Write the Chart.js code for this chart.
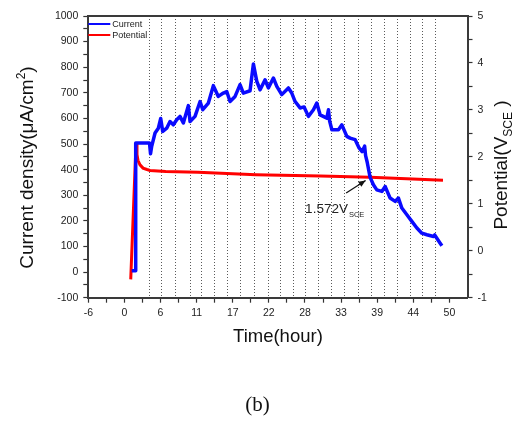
<!DOCTYPE html>
<html><head><meta charset="utf-8">
<script src="https://cdn.jsdelivr.net/npm/chart.js@4"></script>
<style>
html,body{margin:0;padding:0;background:#fff;}
#wrap{position:relative;width:515px;height:422px;overflow:hidden;}
#c{position:absolute;left:0;top:0;}
#cap{position:absolute;left:0;width:515px;top:392px;text-align:center;font:21px "Liberation Serif","Times New Roman",serif;color:#111;line-height:24px;}
</style></head><body>
<div id="wrap"><canvas id="c" width="515" height="422" style="width:515px;height:422px"></canvas><div id="cap">(b)</div></div>
<script>
// ---- data ----
const xTickLabels = ['-6','0','6','11','17','22','28','33','39','44','50'];
const leftTickLabels = ['-100','0','100','200','300','400','500','600','700','800','900','1000'];
const rightTickLabels = ['-1','0','1','2','3','4','5'];
const seriesNames = ['Current','Potential'];

const markerHours = [3.4, 5.2, 7.4, 9.7, 11.5, 13.5, 15.5, 17.6, 19.7, 21.8, 23.8, 25.8, 27.6, 29.6, 31.6, 33.7, 35.8, 37.8, 39.8, 41.9, 43.9, 45.7, 47.7];

const currentTime = [0.73, 1.25, 1.35, 3.49, 3.65, 3.83, 4.35, 4.86, 5.23, 5.54, 6.16, 6.67, 7.18, 7.71, 8.22, 8.74, 9.51, 9.78, 10.55, 11.33, 11.75, 12.62, 13.39, 14.16, 14.94, 15.47, 15.98, 16.76, 17.53, 18.04, 19.08, 19.6, 20.13, 20.64, 21.41, 21.92, 22.7, 23.23, 24.0, 25.03, 25.55, 26.07, 26.84, 27.46, 28.13, 28.91, 29.43, 29.95, 30.99, 31.24, 31.42, 31.77, 32.79, 33.32, 34.09, 34.6, 35.38, 35.99, 36.46, 36.85, 37.0, 37.24, 37.7, 38.21, 38.74, 39.52, 40.03, 40.8, 41.58, 42.09, 42.62, 43.4, 44.17, 44.95, 45.72, 46.5, 47.53, 47.71, 48.56, 48.83];
const currentValues = [5, 5, 504, 504, 462, 491, 543, 562, 600, 549, 562, 588, 575, 595, 608, 582, 650, 588, 608, 666, 634, 660, 728, 686, 699, 705, 666, 686, 732, 699, 708, 813, 745, 712, 751, 719, 758, 725, 693, 719, 699, 666, 641, 645, 608, 634, 660, 614, 601, 634, 590, 556, 556, 575, 530, 523, 517, 485, 470, 492, 455, 430, 370, 341, 321, 315, 334, 289, 276, 289, 250, 224, 198, 172, 152, 146, 139, 145, 113, 103];

const potentialTime = [0.58, 1.40, 1.55, 1.71, 2.02, 2.49, 3.1, 3.57, 6, 11, 20, 30, 37.7, 49.0];
const potentialValues = [-0.61, 2.29, 2.05, 1.92, 1.83, 1.76, 1.73, 1.71, 1.69, 1.67, 1.62, 1.59, 1.565, 1.50];

const annotationPoint = {time: 37.7, potential: 1.572, text: '1.572V', sub: 'SCE'};

// ---- chart ----
const FONT = 'Arial, "Liberation Sans", sans-serif';
const toXY = (xs, ys) => xs.map((v, i) => ({x: v, y: ys[i]}));

function drawRich(ctx, parts, x, y, rot) {
  ctx.save();
  ctx.translate(x, y);
  ctx.rotate(rot);
  ctx.textBaseline = 'alphabetic';
  ctx.textAlign = 'left';
  ctx.fillStyle = '#111';
  let total = 0;
  parts.forEach(p => { ctx.font = p.size + 'px ' + FONT; p.w = ctx.measureText(p.text).width; total += p.w; });
  let cx = -total / 2;
  parts.forEach(p => { ctx.font = p.size + 'px ' + FONT; ctx.fillText(p.text, cx, p.dy); cx += p.w; });
  ctx.restore();
}

const decor = {
  id: 'decor',
  beforeDatasetsDraw(chart) {
    const {ctx, chartArea: a, scales: {x}} = chart;
    ctx.save();
    ctx.strokeStyle = '#5a5a5a';
    ctx.lineWidth = 1;
    ctx.setLineDash([1, 2]);
    markerHours.forEach(h => {
      const px = Math.round(x.getPixelForValue(h)) + 0.5;
      ctx.beginPath(); ctx.moveTo(px, a.top); ctx.lineTo(px, a.bottom); ctx.stroke();
    });
    ctx.restore();
  },
  afterDraw(chart) {
    const {ctx, chartArea: a, scales: {x, y2}} = chart;
    ctx.save();
    // top frame
    ctx.strokeStyle = '#3a3a3a'; ctx.lineWidth = 2;
    ctx.beginPath(); ctx.moveTo(a.left - 1, a.top); ctx.lineTo(a.right + 1, a.top); ctx.stroke();
    // legend
    chart.data.datasets.forEach((ds, i) => {
      const yy = a.top + 8 + 11 * i;
      ctx.strokeStyle = ds.borderColor; ctx.lineWidth = 2;
      ctx.beginPath(); ctx.moveTo(a.left, yy); ctx.lineTo(a.left + 22, yy); ctx.stroke();
      ctx.fillStyle = '#222'; ctx.font = '9px ' + FONT; ctx.textBaseline = 'middle'; ctx.textAlign = 'left';
      ctx.fillText(ds.label, a.left + 24, yy + 0.5);
    });
    // annotation
    const ax = x.getPixelForValue(annotationPoint.time), ay = y2.getPixelForValue(annotationPoint.potential);
    const tx = ax - 24, ty = ay + 16, hx = ax - 4.5, hy = ay + 3.5;
    ctx.strokeStyle = '#111'; ctx.fillStyle = '#111'; ctx.lineWidth = 1.3;
    ctx.beginPath(); ctx.moveTo(tx, ty); ctx.lineTo(hx, hy); ctx.stroke();
    const ang = Math.atan2(hy - ty, hx - tx);
    ctx.beginPath();
    ctx.moveTo(hx, hy);
    ctx.lineTo(hx - 7 * Math.cos(ang) + 3 * Math.sin(ang), hy - 7 * Math.sin(ang) - 3 * Math.cos(ang));
    ctx.lineTo(hx - 7 * Math.cos(ang) - 3 * Math.sin(ang), hy - 7 * Math.sin(ang) + 3 * Math.cos(ang));
    ctx.closePath(); ctx.fill();
    ctx.fillStyle = '#222'; ctx.textBaseline = 'alphabetic'; ctx.textAlign = 'left';
    ctx.font = '13.5px ' + FONT;
    const lx = ax - 65, ly = ay + 36;
    ctx.fillText(annotationPoint.text, lx, ly);
    const w = ctx.measureText(annotationPoint.text).width;
    ctx.font = '7.5px ' + FONT;
    ctx.fillText(annotationPoint.sub, lx + w + 1, ly + 4);
    ctx.restore();
    // axis titles
    drawRich(ctx, [{text: 'Current density(\u03bcA/cm', size: 19, dy: 0}, {text: '2', size: 12, dy: -8}, {text: ')', size: 19, dy: 0}], 33, 167.5, -Math.PI / 2);
    drawRich(ctx, [{text: 'Potential(V', size: 19, dy: 0}, {text: 'SCE', size: 12, dy: 5}, {text: ' )', size: 19, dy: 0}], 507, 165, -Math.PI / 2);
  }
};

const tickFont = {family: FONT, size: 10.5};
const gridOpts = {drawOnChartArea: false, drawTicks: true, tickLength: 5, tickColor: '#333', tickWidth: 1.2};
const borderOpts = {display: true, color: '#3a3a3a', width: 2};

new Chart(document.getElementById('c'), {
  type: 'line',
  data: {
    datasets: [
      {label: seriesNames[0], data: toXY(currentTime, currentValues), borderColor: 'rgb(10,10,255)', borderWidth: 3.5, pointRadius: 0, tension: 0, yAxisID: 'y', fill: false, borderJoinStyle: 'round'},
      {label: seriesNames[1], data: toXY(potentialTime, potentialValues), borderColor: 'rgb(255,0,0)', borderWidth: 3, pointRadius: 0, tension: 0, yAxisID: 'y2', fill: false}
    ]
  },
  options: {
    responsive: false,
    devicePixelRatio: 1,
    animation: false,
    parsing: true,
    layout: {padding: {left: 0, right: 0, top: 16, bottom: 74.3}},
    plugins: {legend: {display: false}, tooltip: {enabled: false}, title: {display: false}},
    scales: {
      x: {
        type: 'linear', min: -6, max: 52.8,
        afterBuildTicks: s => { s.ticks = Array.from({length: 21}, (_, i) => ({value: -6 + 2.8 * i})); },
        afterFit: s => { s.height = 50; },
        ticks: {autoSkip: false, maxRotation: 0, padding: 4, color: '#222', font: tickFont,
          callback: (v, i) => i % 2 === 0 ? xTickLabels[i / 2] : ''},
        grid: gridOpts, border: borderOpts,
        title: {display: true, text: 'Time(hour)', color: '#111', font: {family: FONT, size: 18.5}, padding: 0}
      },
      y: {
        type: 'linear', position: 'left', min: -100, max: 1000,
        afterBuildTicks: s => { s.ticks = Array.from({length: 23}, (_, i) => ({value: -100 + 50 * i})); },
        afterFit: s => { s.width = 88.3; },
        ticks: {autoSkip: false, padding: 5, color: '#222', font: tickFont,
          callback: (v, i) => i % 2 === 0 ? leftTickLabels[i / 2] : ''},
        grid: gridOpts, border: borderOpts
      },
      y2: {
        type: 'linear', position: 'right', min: -1, max: 5,
        afterBuildTicks: s => { s.ticks = Array.from({length: 13}, (_, i) => ({value: -1 + 0.5 * i})); },
        afterFit: s => { s.width = 47.5; },
        ticks: {autoSkip: false, padding: 5, color: '#222', font: tickFont,
          callback: (v, i) => i % 2 === 0 ? rightTickLabels[i / 2] : ''},
        grid: gridOpts, border: borderOpts
      }
    }
  },
  plugins: [decor]
});
</script>
</body></html>
